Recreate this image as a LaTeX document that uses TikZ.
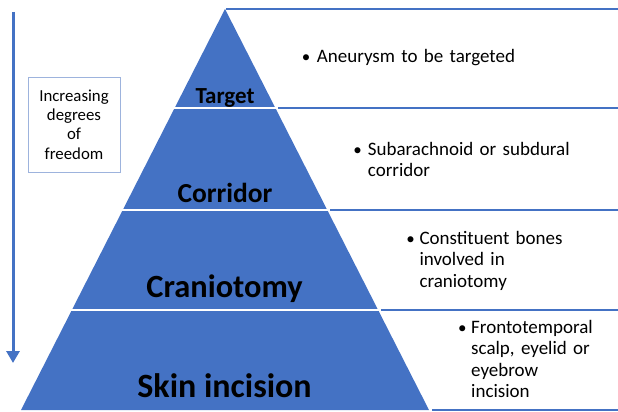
\documentclass[tikz,border=0pt]{standalone}
\usepackage{fontspec}
\setmainfont{Carlito}
\usetikzlibrary{arrows.meta}
\definecolor{pblue}{HTML}{4472C4}
\definecolor{boxblue}{HTML}{9DB3DD}
\begin{document}
\begin{tikzpicture}[x=1pt,y=-1pt,
  bandlabel/.style={font=\bfseries\fontsize{#1}{#1}\selectfont, anchor=base, inner sep=0pt},
  sepline/.style={white, line width=2pt},
  rowline/.style={pblue, line width=1.3pt},
  bul/.style={font=\fontsize{17}{21.5}\selectfont, anchor=base, inner sep=0pt},
  desc/.style={font=\fontsize{19}{21.5}\selectfont, anchor=base west, inner sep=0pt, text width=#1, align=left},
  arrowline/.style={pblue, line width=3pt, -{Triangle[width=13pt,length=12pt]}}
]
\useasboundingbox (0,0) rectangle (618,412);
% pyramid
\coordinate (apex) at (225,9);
\coordinate (bl) at (21,410);
\coordinate (br) at (429,410);
\fill[pblue] (apex) -- (br) -- (bl) -- cycle;
% separators inside pyramid
\coordinate (s1l) at (173.6,108); \coordinate (s1r) at (276.4,108);
\coordinate (s2l) at (121.7,210); \coordinate (s2r) at (328.3,210);
\coordinate (s3l) at (70.9,310);  \coordinate (s3r) at (379.1,310);
\draw[sepline] (s1l) -- (s1r);
\draw[sepline] (s2l) -- (s2r);
\draw[sepline] (s3l) -- (s3r);
% row lines on the right
\coordinate (r0a) at (226,9);   \coordinate (r0b) at (618,9);
\coordinate (r1a) at (278,108); \coordinate (r1b) at (618,108);
\coordinate (r2a) at (330,210); \coordinate (r2b) at (618,210);
\coordinate (r3a) at (381,310); \coordinate (r3b) at (618,310);
\coordinate (r4a) at (432,410); \coordinate (r4b) at (618,410);
\draw[rowline] (r0a) -- (r0b);
\draw[rowline] (r1a) -- (r1b);
\draw[rowline] (r2a) -- (r2b);
\draw[rowline] (r3a) -- (r3b);
\draw[rowline] (r4a) -- (r4b);
% band labels
\node[bandlabel=23] (target) at (225,103) {Target};
\node[bandlabel=27.5] (corridor) at (225,202) {Corridor};
\node[bandlabel=32.4] (cranio) at (224.5,297) {Craniotomy};
\node[bandlabel=34] (skin) at (224.5,397) {Skin incision};
% right descriptions
\node[bul] (b1) at (306,63) {\textbullet};
\node[desc=250pt] (d1) at (316.7,63) {Aneurysm to be targeted};
\node[bul] (b2) at (357.7,155) {\textbullet};
\node[desc=230pt] (d2) at (367.7,155) {Subarachnoid or subdural\\corridor};
\node[bul] (b3) at (410.7,244) {\textbullet};
\node[desc=190pt] (d3) at (419.3,244) {Constituent bones\\involved in\\craniotomy};
\node[bul] (b4) at (462.3,333) {\textbullet};
\node[desc=145pt] (d4) at (471,333) {Frontotemporal\\scalp, eyelid or\\eyebrow\\incision};
% left arrow and box
\coordinate (atop) at (13,12);
\coordinate (abot) at (13,363);
\draw[arrowline] (atop) -- (abot);
\node[draw=boxblue, line width=0.8pt, minimum width=92pt, minimum height=95pt, inner sep=0pt,
      align=center, font=\fontsize{16.8}{19.3}\selectfont] (dof) at (74,124.5)
      {Increasing\\degrees\\of\\freedom};
\end{tikzpicture}
\end{document}
